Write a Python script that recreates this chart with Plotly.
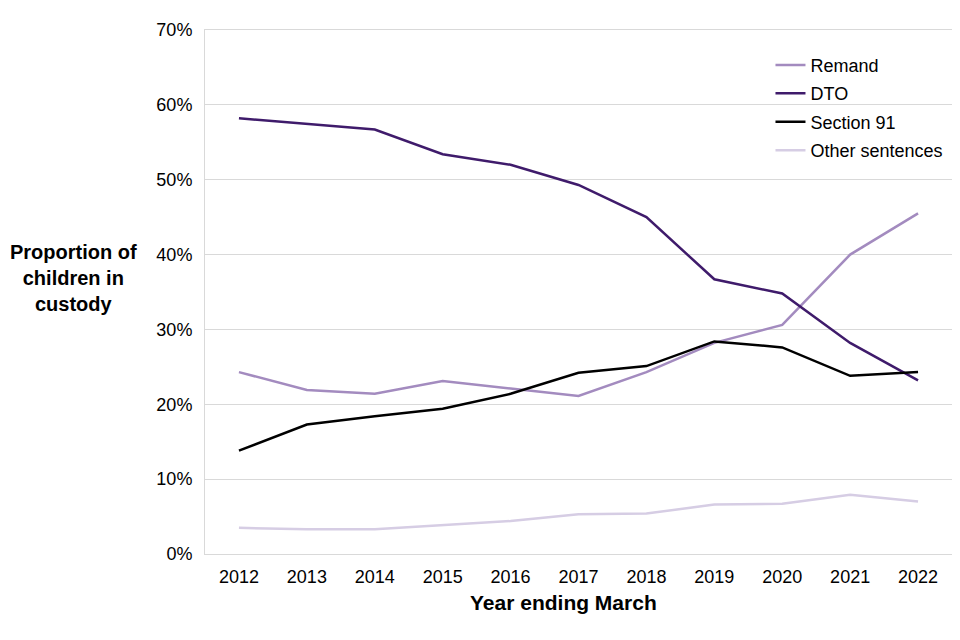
import plotly.graph_objects as go

years = ["2012", "2013", "2014", "2015", "2016", "2017", "2018", "2019", "2020", "2021", "2022"]
remand = [24.3, 21.9, 21.4, 23.1, 22.1, 21.1, 24.3, 28.2, 30.6, 40.0, 45.5]
dto = [58.2, 57.4, 56.7, 53.4, 52.0, 49.3, 45.0, 36.7, 34.8, 28.2, 23.2]
section91 = [13.8, 17.3, 18.4, 19.4, 21.4, 24.2, 25.1, 28.4, 27.6, 23.8, 24.3]
other = [3.5, 3.3, 3.3, 3.9, 4.4, 5.3, 5.4, 6.6, 6.7, 7.9, 7.0]

series = [
    ("Remand", remand, "#A38BBF"),
    ("DTO", dto, "#3F1B6B"),
    ("Section 91", section91, "#000000"),
    ("Other sentences", other, "#D6CDE4"),
]

fig = go.Figure()
for name, vals, col in series:
    fig.add_trace(go.Scatter(x=years, y=[v / 100 for v in vals], name=name, mode="lines",
                             legendgroup=name,
                             line=dict(color=col, width=2.5)))

font = "Liberation Sans, Arial, sans-serif"
fig.update_layout(
    width=960, height=640,
    margin=dict(l=197, r=16, t=15, b=94),
    paper_bgcolor="white", plot_bgcolor="white",
    font=dict(family=font, size=18, color="#000000"),
    showlegend=True,
    legend=dict(x=0.757, y=0.968, xanchor="left", yanchor="top",
                font=dict(size=18), bgcolor="rgba(255,255,255,0)",
                tracegroupgap=2, itemwidth=30),
    xaxis=dict(type="category", range=[-0.5, 10.5], showgrid=False,
               showline=True, mirror=True, linecolor="#D9D9D9", linewidth=1, ticks="",
               tickfont=dict(size=18), ticklabelstandoff=6),
    yaxis=dict(range=[0, 0.7], dtick=0.1, tickformat=".0%", showgrid=True,
               gridcolor="#D9D9D9", gridwidth=1, showline=True, mirror=True, linecolor="#D9D9D9",
               zeroline=False, ticks="", tickfont=dict(size=18), ticklabelstandoff=8),
)
fig.add_annotation(text="<b>Proportion of<br>children in<br>custody</b>",
                   xref="paper", yref="paper", x=-0.176, y=0.526, xanchor="center", yanchor="middle",
                   showarrow=False, font=dict(size=20, family=font), align="center")
fig.add_annotation(text="<b>Year ending March</b>",
                   xref="paper", yref="paper", x=0.48, y=-0.092, xanchor="center", yanchor="middle",
                   showarrow=False, font=dict(size=21, family=font))

fig.write_html("out.html")
